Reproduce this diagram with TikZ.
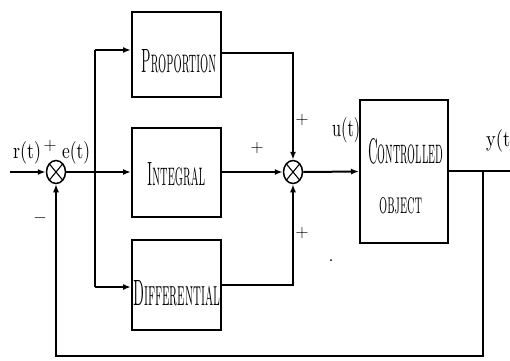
\documentclass[tikz,border=0pt]{standalone}
\usetikzlibrary{arrows.meta,shapes.geometric}
\begin{document}
\begin{tikzpicture}[x=1pt,y=-1pt,
  ln/.style={line width=2pt},
  arr/.style={line width=2pt,-{Latex[length=8pt,width=6pt]}},
  fbl/.style={line width=1.4pt},
  blk/.style={draw,line width=2pt,inner sep=0pt},
  txt/.style={inner sep=0pt,anchor=base west},
  sgn/.style={inner sep=0pt,font=\fontsize{18}{18}\selectfont},
  sumc/.style={draw,ellipse,line width=1.5pt,minimum width=19pt,minimum height=23pt,inner sep=0pt,
    path picture={\draw[line width=1.1pt] (path picture bounding box.north west)--(path picture bounding box.south east)
      (path picture bounding box.north east)--(path picture bounding box.south west);}}
]
\useasboundingbox (0,0) rectangle (510,360);

% blocks
\node[blk,minimum width=89pt,minimum height=85pt] (prop) at (176.5,54.5) {};
\node[blk,minimum width=89pt,minimum height=89pt] (int) at (176.5,172) {};
\node[blk,minimum width=89pt,minimum height=90pt] (diff) at (176.5,285) {};
\node[blk,minimum width=88pt,minimum height=143pt] (ctrl) at (404,171.5) {};

% block texts
\node[txt] (tprop) at (141,72) {\resizebox{75pt}{23pt}{\textsc{Proportion}}};
\node[txt] (tint) at (147,185) {\resizebox{58pt}{23pt}{\textsc{Integral}}};
\node[txt] (tdiff) at (133,305) {\resizebox{87pt}{25pt}{\textsc{Differential}}};
\node[txt] (tctrl) at (368,163) {\resizebox{75pt}{25pt}{\textsc{Controlled}}};
\node[txt] (tobj) at (379,213) {\resizebox{43pt}{16pt}{\textsc{object}}};

% summing junctions
\node[sumc] (s1) at (56,172) {};
\node[sumc] (s2) at (293,172) {};

% coordinates
\coordinate (in) at (10,172);
\coordinate (b) at (95,172);
\coordinate (bt) at (95,50);
\coordinate (bb) at (95,287);
\coordinate (pc) at (293,53);
\coordinate (dc) at (293,285);
\coordinate (out) at (510,171);
\coordinate (fb) at (483,171);
\coordinate (fbd) at (483,356);

% connectors
\draw[arr] (in) -- (s1.west);
\draw[arr] (s1.east) -- (int.west);
\draw[ln] (bt) -- (bb);
\draw[arr] (bt) -- (bt -| prop.west);
\draw[arr] (bb) -- (bb -| diff.west);
\draw[arr] (prop.east |- pc) -- (pc) -- (s2.north);
\draw[arr] (int.east) -- (s2.west);
\draw[arr] (diff.east |- dc) -- (dc) -- (s2.south);
\draw[arr] (s2.east) -- (ctrl.west);
\draw[ln] (ctrl.east |- out) -- (out);
\draw[fbl,-{Latex[length=8pt,width=6pt]}] (fb) -- (fbd) -- (s1 |- fbd) -- (s1.south);

% signal labels
\node[txt] (lr) at (13,158) {\resizebox{28pt}{17pt}{r(t)}};
\node[txt] (le) at (62,158) {\resizebox{28pt}{17pt}{e(t)}};
\node[txt] (lu) at (332,136) {\resizebox{28pt}{19pt}{u(t)}};
\node[txt] (ly) at (486,146) {\resizebox{24pt}{17pt}{y(t}};

% signs
\node[sgn] (p1) at (50,146) {+};
\node[font=\fontsize{16}{16}\selectfont,inner sep=0pt] (m1) at (40,218) {$-$};
\node[sgn] (p2) at (302,120) {+};
\node[sgn] (p3) at (257,148) {+};
\node[sgn] (p4) at (302,233) {+};

% stray dot
\fill (331,260) circle (1pt);
\end{tikzpicture}
\end{document}
